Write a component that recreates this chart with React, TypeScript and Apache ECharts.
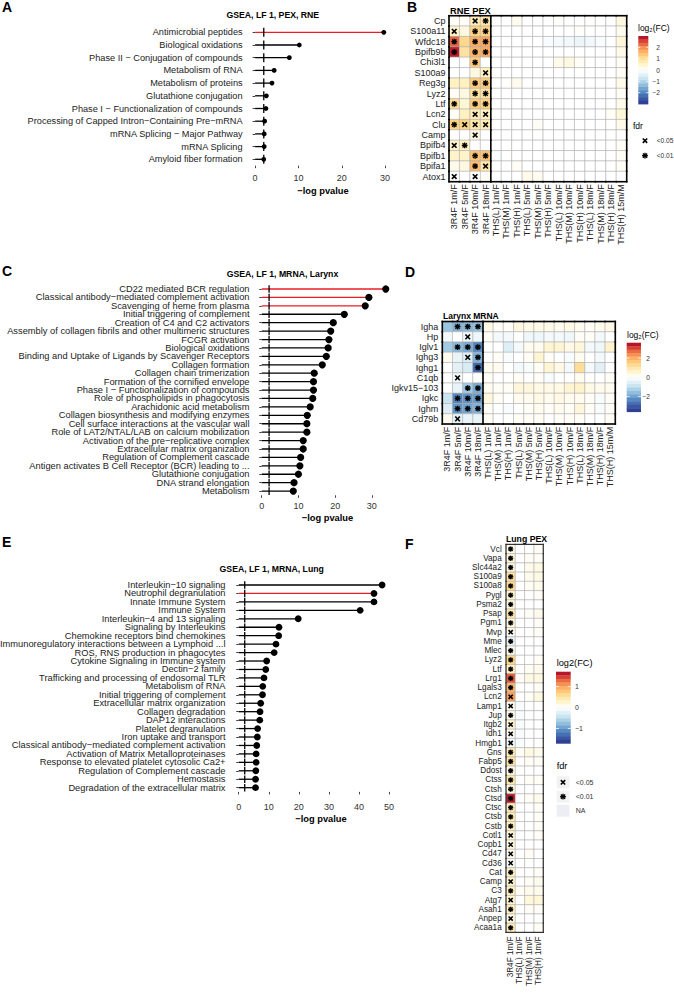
import React, { useEffect, useRef } from "react";
import * as echarts from "echarts";

const FONT = "'Liberation Sans', Arial, Helvetica, sans-serif";
const RED = "#ec1c24";
const THRESH = 2;
const GRIDC = "#a9a9a9";
const LABC = "#222";

// ---------- Panel A : GSEA, LF 1, PEX, RNE ----------
const aPathways = [
  "Antimicrobial peptides",
  "Biological oxidations",
  "Phase II − Conjugation of compounds",
  "Metabolism of RNA",
  "Metabolism of proteins",
  "Glutathione conjugation",
  "Phase I − Functionalization of compounds",
  "Processing of Capped Intron−Containing Pre−mRNA",
  "mRNA Splicing − Major Pathway",
  "mRNA Splicing",
  "Amyloid fiber formation",
];
const aLogP = [29.7, 10.2, 7.9, 4.4, 3.9, 2.6, 2.5, 2.2, 2.1, 2.1, 2.0];
const aHighlight = [1, 0, 0, 0, 0, 0, 0, 0, 0, 0, 0];
const aTicks = [0, 10, 20, 30];

// ---------- Panel C : GSEA, LF 1, MRNA, Larynx ----------
const cPathways = [
  "CD22 mediated BCR regulation",
  "Classical antibody−mediated complement activation",
  "Scavenging of heme from plasma",
  "Initial triggering of complement",
  "Creation of C4 and C2 activators",
  "Assembly of collagen fibrils and other multimeric structures",
  "FCGR activation",
  "Biological oxidations",
  "Binding and Uptake of Ligands by Scavenger Receptors",
  "Collagen formation",
  "Collagen chain trimerization",
  "Formation of the cornified envelope",
  "Phase I − Functionalization of compounds",
  "Role of phospholipids in phagocytosis",
  "Arachidonic acid metabolism",
  "Collagen biosynthesis and modifying enzymes",
  "Cell surface interactions at the vascular wall",
  "Role of LAT2/NTAL/LAB on calcium mobilization",
  "Activation of the pre−replicative complex",
  "Extracellular matrix organization",
  "Regulation of Complement cascade",
  "Antigen activates B Cell Receptor (BCR) leading to ...",
  "Glutathione conjugation",
  "DNA strand elongation",
  "Metabolism",
];
const cLogP = [33.8, 29.2, 28.2, 22.5, 19.5, 18.8, 18.3, 18.1, 17.6, 16.5, 14.3, 14.1, 14.1, 13.9, 13.2, 12.4, 12.3, 12.3, 11.3, 11.3, 10.6, 10.4, 10.0, 8.8, 8.6];
const cHighlight = [1, 1, 1, 0, 0, 0, 0, 0, 0, 0, 0, 0, 0, 0, 0, 0, 0, 0, 0, 0, 0, 0, 0, 0, 0];
const cTicks = [0, 10, 20, 30];

// ---------- Panel E : GSEA, LF 1, MRNA, Lung ----------
const ePathways = [
  "Interleukin−10 signaling",
  "Neutrophil degranulation",
  "Innate Immune System",
  "Immune System",
  "Interleukin−4 and 13 signaling",
  "Signaling by Interleukins",
  "Chemokine receptors bind chemokines",
  "Immunoregulatory interactions between a Lymphoid ...l",
  "ROS, RNS production in phagocytes",
  "Cytokine Signaling in Immune system",
  "Dectin−2 family",
  "Trafficking and processing of endosomal TLR",
  "Metabolism of RNA",
  "Initial triggering of complement",
  "Extracellular matrix organization",
  "Collagen degradation",
  "DAP12 interactions",
  "Platelet degranulation",
  "Iron uptake and transport",
  "Classical antibody−mediated complement activation",
  "Activation of Matrix Metalloproteinases",
  "Response to elevated platelet cytosolic Ca2+",
  "Regulation of Complement cascade",
  "Hemostasis",
  "Degradation of the extracellular matrix",
];
const eLogP = [47.7, 45.0, 45.0, 40.4, 19.8, 13.4, 13.3, 12.4, 11.8, 9.3, 9.0, 8.4, 8.0, 7.9, 7.3, 7.1, 7.0, 6.3, 6.2, 6.0, 5.8, 5.8, 5.7, 5.6, 5.6];
const eHighlight = [0, 1, 0, 0, 0, 0, 0, 0, 0, 0, 0, 0, 0, 0, 0, 0, 0, 0, 0, 0, 0, 0, 0, 0, 0];
const eTicks = [0, 10, 20, 30, 40, 50];

// ---------- Heatmap columns (B, D) ----------
const bdColumns = [
  "3R4F 1m/F", "3R4F 5m/F", "3R4F 10m/F", "3R4F 18m/F",
  "THS(L) 1m/F", "THS(M) 1m/F", "THS(H) 1m/F",
  "THS(L) 5m/F", "THS(M) 5m/F", "THS(H) 5m/F",
  "THS(L) 10m/F", "THS(M) 10m/F", "THS(H) 10m/F",
  "THS(L) 18m/F", "THS(M) 18m/F", "THS(H) 18m/F",
  "THS(H) 15m/M",
];

// ---------- Panel B : RNE PEX (log2 FC) ----------
const bGenes = ["Cp", "S100a11", "Wfdc18", "Bpifb9b", "Chi3l1", "S100a9", "Reg3g", "Lyz2", "Ltf", "Lcn2", "Clu", "Camp", "Bpifb4", "Bpifb1", "Bpifa1", "Atox1"];
const bFC = [
  [0.1, 0.1, 0.7, 0.8, 0, 0, 0.15, 0, 0, 0, 0.05, 0, 0, 0.05, 0, 0, 0.3],
  [0.5, 0.3, 1.2, 1.2, 0, 0, 0, 0, 0, 0, 0, 0, 0.05, 0, 0, 0, 0.15],
  [2.3, 1.1, 1.7, 1.8, 0, 0, 0, 0, 0, -0.1, -0.15, -0.2, -0.3, -0.2, -0.1, 0, 0.35],
  [2.8, 0.9, 1.6, 1.7, 0, 0, 0, 0, 0, 0, 0, 0, 0, 0, 0, 0, 0.2],
  [0, 0, 1.3, 0, 0, 0, 0, 0, 0, 0, 0.2, 0.3, 0.1, 0, 0, 0, 0.1],
  [0, 0, 0.3, 0.6, 0, 0, 0, 0, 0, 0, 0, 0, 0, 0, 0, 0, 0.1],
  [0.6, 0.6, 1.3, 1.3, 0, 0.05, 0.15, 0, 0, 0, 0, 0, 0, 0, 0, 0, 0.2],
  [0.1, 0.3, 0.9, 0.9, 0, 0, 0, 0, 0, 0, 0, 0, 0, 0, 0, 0, 0.1],
  [1.0, 0.4, 1.3, 1.2, 0, 0, 0, 0, 0, 0, 0, 0, 0, 0, 0, 0, 0.2],
  [0.1, 0.6, 0.7, 0.6, 0, 0, 0, 0, 0, 0, 0, 0, 0, 0, 0, 0.1, 0.35],
  [1.2, 1.2, 0.8, 0.7, 0, 0, 0, 0, 0.1, 0, 0, 0, 0, 0, 0, 0, 0.2],
  [0, 0, 0.3, 0, 0, 0, 0, 0, 0, 0, 0, 0, 0, 0, 0, 0, 0],
  [0.5, 0.6, 0, 0, 0, 0, 0, 0, 0, 0, 0, 0, 0, 0, 0, 0, 0.1],
  [0.5, 0.5, 1.4, 1.4, -0.1, 0, 0, 0, 0, 0, 0, 0, 0, 0, 0, 0, 0.1],
  [0.2, 0.3, 1.5, 0.8, 0, 0, 0.1, 0, 0, 0, 0, 0, 0, 0, 0, 0, 0.1],
  [0, 0, 0, 0.1, 0, 0, 0, 0.2, 0.15, 0, 0, 0, 0, 0, 0, 0, 0],
];
// 1 = fdr < 0.05 (×), 2 = fdr < 0.01 (✱); 3R4F columns only
const bMarks = [
  [0, 0, 1, 2], [1, 0, 2, 2], [2, 0, 2, 2], [2, 0, 2, 2], [0, 0, 2, 0], [0, 0, 0, 1],
  [0, 0, 2, 2], [0, 0, 2, 2], [2, 0, 2, 2], [0, 0, 1, 1], [2, 1, 1, 1], [0, 0, 1, 0],
  [1, 2, 0, 0], [0, 0, 2, 2], [0, 0, 2, 1], [1, 0, 1, 0],
];

// ---------- Panel D : Larynx MRNA ----------
const dGenes = ["Igha", "Hp", "Iglv1", "Ighg3", "Ighg1", "C1qb", "Igkv15−103", "Igkc", "Ighm", "Cd79b"];
const dFC = [
  [-1.5, -1.8, -1.7, -1.6, 0.3, 0.1, 0.1, 0.35, 0.3, 0.3, 0.3, 0.2, 0.3, 0.2, 0.1, 0.2, 0.3],
  [-0.2, 0.0, -0.3, -0.3, 0.1, -0.2, -0.2, 0.0, -0.3, -0.3, -0.2, -0.2, -0.3, 0.1, 0.1, -0.2, 0.0],
  [-1.4, -1.7, -1.9, -2.4, 0.0, 0.0, -0.6, -0.2, 0.2, 0.2, 0.5, 0.5, 0.3, 0.4, -0.2, -0.3, 0.6],
  [0.2, -0.4, -0.6, -1.8, 0.0, 0.1, -0.1, 0.0, 0.1, 0.5, 0.1, 0.0, -0.1, 0.2, 0.0, -0.2, 0.0],
  [0.0, -0.5, -0.7, -2.8, 0.2, 0.2, 0.0, -0.2, -0.1, 0.1, 0.5, 0.3, -0.2, 1.2, -0.2, -0.5, 0.0],
  [0.0, -0.2, 0.0, 0.0, 0.1, 0.0, 0.0, 0.1, 0.0, 0.1, -0.1, 0.0, 0.0, 0.2, 0.0, 0.0, 0.1],
  [0.0, -0.4, -1.4, -1.9, 0.2, 0.1, 0.1, 0.4, 0.4, 0.3, 0.3, 0.3, 0.5, 0.6, 0.3, 0.2, 0.2],
  [-0.9, -2.4, -2.2, -2.1, 0.4, 0.1, 0.0, 0.2, 0.2, 0.3, 0.2, 0.3, 0.2, 0.2, 0.1, -0.1, 0.1],
  [-0.6, -2.2, -2.0, -1.8, 0.1, 0.0, -0.1, 0.0, 0.1, 0.2, 0.1, 0.2, 0.1, 0.4, 0.1, -0.1, 0.1],
  [0.2, -0.5, -0.4, -0.4, 0.1, 0.0, 0.0, 0.1, 0.1, 0.1, 0.0, 0.1, 0.1, 0.1, 0.0, 0.0, 0.1],
];
const dMarks = [
  [0, 2, 2, 2], [0, 0, 1, 0], [0, 2, 2, 2], [0, 0, 1, 2], [0, 0, 0, 2],
  [0, 1, 0, 0], [0, 0, 2, 2], [0, 2, 2, 2], [0, 2, 2, 2], [0, 1, 0, 0],
];

// ---------- Panel F : Lung PEX ----------
const fColumns = ["3R4F 1m/F", "THS(L) 1m/F", "THS(M) 1m/F", "THS(H) 1m/F"];
const fGenes = [
  "Vcl", "Vapa", "Slc44a2", "S100a9", "S100a8", "Pygl", "Psma2", "Psap", "Pgm1", "Mvp",
  "Mme", "Mlec", "Lyz2", "Ltf", "Lrg1", "Lgals3", "Lcn2", "Lamp1", "Jup", "Itgb2",
  "Idh1", "Hmgb1", "Gns", "Fabp5", "Ddost", "Ctss", "Ctsh", "Ctsd", "Ctsc", "Ctsb",
  "Cstb", "Cotl1", "Copb1", "Cd47", "Cd36", "Cat", "Camp", "C3", "Atg7", "Asah1",
  "Anpep", "Acaa1a",
];
const f3R4F = [0.1, 0.2, 0.15, 0.55, 0.6, 0.25, 0.15, 0.45, 0.2, 0.1, -0.2, 0.1, 0.65, 0.35, 1.35, 0.9, 1.05, 0.05, 0.1, 0.25, 0.05, -0.1, 0.4, 0.5, 0.1, 0.45, 0.2, 1.6, 0.4, 0.4, 0.35, 0.2, 0.15, 0.1, -0.05, 0.3, 0.25, 0.35, 0.25, 0.35, 0.15, 0.4];
const fTHSL = [0, 0, 0, 0, 0, 0, 0, 0, 0, 0, 0, 0, 0, 0, 0.05, 0, 0, -0.05, -0.05, -0.05, -0.05, -0.05, 0.05, 0, 0, 0, 0, 0, 0, 0, 0, 0, 0, 0, 0, 0, 0, 0.05, 0, 0, 0, 0];
const fTHSM = [0, 0.05, 0.1, 0.1, 0.05, 0, 0, 0.05, 0, 0, 0, 0, 0, 0.05, 0.15, 0, 0.05, 0, 0, 0, 0, 0, 0.15, 0.05, 0, 0.05, 0, 0.05, 0, 0, 0, 0, 0, 0.05, 0, 0, 0.05, 0.1, 0.2, 0.05, 0, 0];
const fTHSH = [0.05, 0.05, 0.15, 0.15, 0.1, 0.05, 0, 0.1, 0.05, 0.05, 0, 0, 0.05, 0.1, 0.15, 0.05, 0.15, 0, 0, 0, 0, 0, 0.1, 0.05, 0, 0.05, 0, 0.1, 0.05, 0.05, 0.05, 0.05, 0, 0, 0, 0.05, 0.1, 0.1, 0.2, 0.05, 0, 0.05];
const fMarks3R4F = [2, 2, 2, 2, 2, 2, 2, 2, 2, 1, 2, 2, 2, 2, 2, 2, 1, 1, 2, 1, 1, 1, 2, 2, 2, 2, 2, 2, 2, 2, 2, 1, 1, 1, 1, 2, 1, 2, 1, 2, 1, 2];

// ---------- colour scale ----------
const STOPS: [number, string][] = [
  [-1, "#2c3589"], [-0.82, "#3b5ea8"], [-0.64, "#5a8cc2"], [-0.44, "#93c1de"], [-0.22, "#d3e9f3"],
  [0, "#ffffff"], [0.2, "#fff1c0"], [0.4, "#fed382"], [0.6, "#fca45c"], [0.8, "#e4573a"], [1, "#a50026"],
];
function hex2rgb(h: string) {
  return [parseInt(h.slice(1, 3), 16), parseInt(h.slice(3, 5), 16), parseInt(h.slice(5, 7), 16)];
}
function fcColor(v: number, lim: number) {
  const t = Math.max(-1, Math.min(1, v / lim));
  for (let i = 0; i < STOPS.length - 1; i++) {
    const [t0, c0] = STOPS[i];
    const [t1, c1] = STOPS[i + 1];
    if (t >= t0 && t <= t1) {
      const f = (t - t0) / (t1 - t0);
      const a = hex2rgb(c0), b = hex2rgb(c1);
      const m = a.map((x, k) => Math.round(x + (b[k] - x) * f));
      return `rgb(${m[0]},${m[1]},${m[2]})`;
    }
  }
  return "#ffffff";
}

function markerEls(cx: number, cy: number, kind: number, s: number) {
  const els: any[] = [];
  const ln = (x1: number, y1: number, x2: number, y2: number, lw: number) =>
    els.push({ type: "line", z2: 10, shape: { x1, y1, x2, y2 }, style: { stroke: "#000", lineWidth: lw } });
  if (kind === 1) {
    const a = s * 0.8;
    ln(cx - a, cy - a, cx + a, cy + a, 1.6);
    ln(cx - a, cy + a, cx + a, cy - a, 1.6);
  } else if (kind === 2) {
    const d = s * 0.74;
    ln(cx - s, cy, cx + s, cy, 1.35);
    ln(cx, cy - s, cx, cy + s, 1.35);
    ln(cx - d, cy - d, cx + d, cy + d, 1.35);
    ln(cx - d, cy + d, cx + d, cy - d, 1.35);
  }
  return els;
}

function lollipopSeries(idx: number, values: number[], highlight: number[], dotR: number, vHalf: number) {
  return {
    type: "custom",
    xAxisIndex: idx,
    yAxisIndex: idx,
    encode: { x: 0, y: 1 },
    data: values.map((v, i) => [v, i, highlight[i]]),
    renderItem: (_p: any, api: any) => {
      const v = api.value(0), cat = api.value(1), hi = api.value(2);
      const p0 = api.coord([0, cat]);
      const p1 = api.coord([v, cat]);
      const pt = api.coord([THRESH, cat]);
      return {
        type: "group",
        children: [
          { type: "line", shape: { x1: p0[0], y1: p0[1], x2: p1[0], y2: p1[1] }, style: { stroke: hi ? RED : "#000", lineWidth: 1.3 } },
          { type: "line", z2: 2, shape: { x1: pt[0], y1: pt[1] - vHalf, x2: pt[0], y2: pt[1] + vHalf }, style: { stroke: "#000", lineWidth: 1.3 } },
          { type: "circle", z2: 3, shape: { cx: p1[0], cy: p1[1], r: dotR }, style: { fill: "#000" } },
        ],
      };
    },
  };
}

function heatSeries(idx: number, values: number[][], marks: number[][], lim: number, sepAfter: number, markSize: number, borderColor: string, borderWidth: number) {
  const nRows = values.length;
  const nCols = values[0].length;
  const data: number[][] = [];
  values.forEach((row, r) => row.forEach((v, c) => data.push([c, r, v, (marks[r] && marks[r][c]) || 0])));
  return {
    type: "custom",
    xAxisIndex: idx,
    yAxisIndex: idx,
    encode: { x: 0, y: 1 },
    data,
    renderItem: (_p: any, api: any) => {
      const c = api.value(0), r = api.value(1), v = api.value(2), m = api.value(3);
      const ctr = api.coord([c, r]);
      const sz = api.size([1, 1]);
      const w = sz[0], h = sz[1];
      const x0 = ctr[0] - w / 2, y0 = ctr[1] - h / 2, x1 = x0 + w, y1 = y0 + h;
      const children: any[] = [
        { type: "rect", shape: { x: x0, y: y0, width: w, height: h }, style: { fill: fcColor(v, lim), stroke: GRIDC, lineWidth: 0.5 } },
      ];
      if (m) children.push(...markerEls(ctr[0], ctr[1], m, markSize));
      const edge = (xa: number, ya: number, xb: number, yb: number) =>
        children.push({ type: "line", z2: 20, shape: { x1: xa, y1: ya, x2: xb, y2: yb }, style: { stroke: borderColor, lineWidth: borderWidth, lineCap: "square" } });
      if (c === 0) edge(x0, y0, x0, y1);
      if (c === nCols - 1) edge(x1, y0, x1, y1);
      if (r === 0) edge(x0, y0, x1, y0);
      if (r === nRows - 1) edge(x0, y1, x1, y1);
      if (sepAfter && c === sepAfter - 1) edge(x1, y0, x1, y1);
      return { type: "group", children };
    },
  };
}

function txt(x: number, y: number, text: string, size: number, o: any = {}) {
  const align = o.align || "left";
  return {
    type: "text",
    x,
    y,
    silent: true,
    z: 50,
    style: {
      text,
      fontSize: size,
      fontFamily: FONT,
      fontWeight: o.bold ? "bold" : "normal",
      fill: o.color || "#000",
      align,
      textAlign: align,
      verticalAlign: "middle",
      textVerticalAlign: "middle",
    },
  };
}

function colorbar(x: number, yTop: number, yBot: number, w: number, lim: number, ticks: number[], labelX: number, align: string, fs: number) {
  const els: any[] = [];
  const n = 20;
  const H = yBot - yTop;
  for (let i = 0; i < n; i++) {
    const vc = lim - (i + 0.5) * ((2 * lim) / n);
    els.push({ type: "rect", silent: true, z: 40, shape: { x, y: yTop + (i * H) / n, width: w, height: H / n + 0.4 }, style: { fill: fcColor(vc, lim) } });
  }
  ticks.forEach((t) => {
    const y = yTop + ((lim - t) / (2 * lim)) * H;
    els.push({ type: "line", silent: true, z: 41, shape: { x1: x, y1: y, x2: x + w * 0.2, y2: y }, style: { stroke: "#fff", lineWidth: 0.8 } });
    els.push({ type: "line", silent: true, z: 41, shape: { x1: x + w * 0.8, y1: y, x2: x + w, y2: y }, style: { stroke: "#fff", lineWidth: 0.8 } });
    els.push(txt(labelX, y, t < 0 ? "−" + Math.abs(t) : String(t), fs, { align, color: "#333" }));
  });
  return els;
}

function markerKey(cx: number, cy: number, kind: number, s: number) {
  return markerEls(cx, cy, kind, s).map((e) => ({ ...e, silent: true, z: 45 }));
}

function lolliAxes(idx: number, names: string[], min: number, max: number, ticks: number[], margin: number, fs: number) {
  const x = {
    type: "value",
    gridIndex: idx,
    min,
    max,
    axisLine: { show: false },
    splitLine: { show: false },
    axisTick: { show: true, length: 2.5, lineStyle: { color: "#444", width: 1 }, customValues: ticks },
    axisLabel: { customValues: ticks, fontSize: 9, color: "#333", fontFamily: FONT, margin },
  };
  const y = {
    type: "category",
    gridIndex: idx,
    data: names,
    inverse: true,
    axisLine: { show: false },
    splitLine: { show: false },
    axisTick: { show: true, alignWithLabel: true, length: 2.5, lineStyle: { color: "#444", width: 1 } },
    axisLabel: { interval: 0, fontSize: fs, color: LABC, fontFamily: FONT, margin: 6 },
  };
  return [x, y];
}

function heatAxes(idx: number, cols: string[], rows: string[], fs: number, rowMargin: number, colMargin: number) {
  const x = {
    type: "category",
    gridIndex: idx,
    data: cols,
    axisLine: { show: false },
    axisTick: { show: false },
    splitLine: { show: false },
    axisLabel: { interval: 0, rotate: 90, fontSize: fs, color: LABC, fontFamily: FONT, margin: colMargin },
  };
  const y = {
    type: "category",
    gridIndex: idx,
    data: rows,
    inverse: true,
    axisLine: { show: false },
    axisTick: { show: false },
    splitLine: { show: false },
    axisLabel: { interval: 0, fontSize: fs, color: LABC, fontFamily: FONT, margin: rowMargin },
  };
  return [x, y];
}

export default function App() {
  const ref = useRef<HTMLDivElement>(null);
  useEffect(() => {
    if (!ref.current) return;
    const chart = echarts.init(ref.current, null, { renderer: "svg" });

    const fFC = fGenes.map((_, i) => [f3R4F[i], fTHSL[i], fTHSM[i], fTHSH[i]]);
    const fMarks = fGenes.map((_, i) => [fMarks3R4F[i], 0, 0, 0]);

    const [axA, ayA] = lolliAxes(0, aPathways, -1.5, 31.2, aTicks, 8.2, 9.2);
    const [axB, ayB] = heatAxes(1, bdColumns, bGenes, 9, 3.5, 2.5);
    const [axC, ayC] = lolliAxes(2, cPathways, -1.7, 35.5, cTicks, 6, 9.3);
    const [axD, ayD] = heatAxes(3, bdColumns, dGenes, 9, 4, 2.7);
    const [axE, ayE] = lolliAxes(4, ePathways, -2.4, 50.1, eTicks, 10.5, 9.3);
    const [axF, ayF] = heatAxes(5, fColumns, fGenes, 8.2, 4.3, 4);

    const g = (left: number, top: number, width: number, height: number) => ({ left, top, width, height, outerBoundsMode: "none", containLabel: false });

    const graphic: any[] = [
      txt(2, 7, "A", 14, { bold: true }),
      txt(407, 7, "B", 14, { bold: true }),
      txt(2, 271, "C", 14, { bold: true }),
      txt(405, 271.7, "D", 14, { bold: true }),
      txt(2, 542, "E", 14, { bold: true }),
      txt(405, 544, "F", 14, { bold: true }),
      txt(272.8, 15, "GSEA, LF 1, PEX, RNE", 8.7, { bold: true, align: "center" }),
      txt(282.5, 274.3, "GSEA, LF 1, MRNA, Larynx", 8.7, { bold: true, align: "center" }),
      txt(271.7, 569, "GSEA, LF 1, MRNA, Lung", 8.7, { bold: true, align: "center" }),
      txt(323, 191, "−log pvalue", 9.3, { bold: true, align: "center" }),
      txt(327.5, 517.7, "−log pvalue", 9.3, { bold: true, align: "center" }),
      txt(321, 819, "−log pvalue", 9.3, { bold: true, align: "center" }),
      txt(450, 11, "RNE PEX", 9.3, { bold: true }),
      txt(443, 316, "Larynx MRNA", 8.5, { bold: true }),
      txt(506, 539, "Lung PEX", 8.7, { bold: true }),
      // B legend
      txt(638, 28, "log₂(FC)", 8.5),
      ...colorbar(638.3, 36, 104, 10, 3, [2, 1, 0, -1, -2], 660, "right", 6.6),
      txt(633, 125.7, "fdr", 8.5),
      ...markerKey(645, 140.7, 1, 2.7),
      ...markerKey(645, 155.7, 2, 2.9),
      txt(656.7, 140.7, "<0.05", 6.6, { color: "#333" }),
      txt(656.7, 155.7, "<0.01", 6.6, { color: "#333" }),
      // D legend
      txt(627, 335, "log₂(FC)", 8.5),
      ...colorbar(626.7, 342.7, 411.7, 14.3, 3.6, [2, 0, -2], 650, "right", 6.6),
      // F legend
      txt(556.7, 663.3, "log2(FC)", 9.2),
      ...colorbar(556, 671.7, 743.3, 14.7, 1.7, [1, 0, -1], 575, "left", 7),
      txt(556.7, 766, "fdr", 9.2),
      { type: "rect", silent: true, z: 40, shape: { x: 556.7, y: 776.3, width: 12.6, height: 12 }, style: { fill: "#f2f2f2" } },
      { type: "rect", silent: true, z: 40, shape: { x: 556.7, y: 790.7, width: 12.6, height: 12 }, style: { fill: "#f2f2f2" } },
      { type: "rect", silent: true, z: 40, shape: { x: 556.7, y: 804.7, width: 12.6, height: 12 }, style: { fill: "#eceef3" } },
      ...markerKey(563, 782.3, 1, 2.7),
      ...markerKey(563, 796.7, 2, 2.9),
      txt(575.7, 782.3, "<0.05", 7, { color: "#333" }),
      txt(575.7, 796.7, "<0.01", 7, { color: "#333" }),
      txt(575.7, 810.7, "NA", 7, { color: "#333" }),
    ];

    const option: any = {
      animation: false,
      backgroundColor: "#ffffff",
      textStyle: { fontFamily: FONT },
      grid: [
        g(248.6, 25.95, 141.7, 139.7),
        g(449, 15.7, 177.7, 166),
        g(255.5, 284.8, 136.5, 210.5),
        g(442.3, 321.5, 173, 102.5),
        g(231.5, 580.8, 157.8, 211.1),
        g(506, 544.4, 37.3, 388),
      ],
      xAxis: [axA, axB, axC, axD, axE, axF],
      yAxis: [ayA, ayB, ayC, ayD, ayE, ayF],
      series: [
        lollipopSeries(0, aLogP, aHighlight, 2.4, 4.5),
        heatSeries(1, bFC, bMarks, 3, 4, 2.9, "#000", 1.6),
        lollipopSeries(2, cLogP, cHighlight, 3.6, 3.8),
        heatSeries(3, dFC, dMarks, 3.6, 4, 2.9, "#000", 1.6),
        lollipopSeries(4, eLogP, eHighlight, 3.4, 3.8),
        heatSeries(5, fFC, fMarks, 1.7, 0, 2.6, "#333", 1.2),
      ],
      graphic,
    };
    chart.setOption(option);
    return () => chart.dispose();
  }, []);

  return <div ref={ref} style={{ position: "absolute", left: 0, top: 0, width: 674, height: 993, background: "#fff" }} />;
}
